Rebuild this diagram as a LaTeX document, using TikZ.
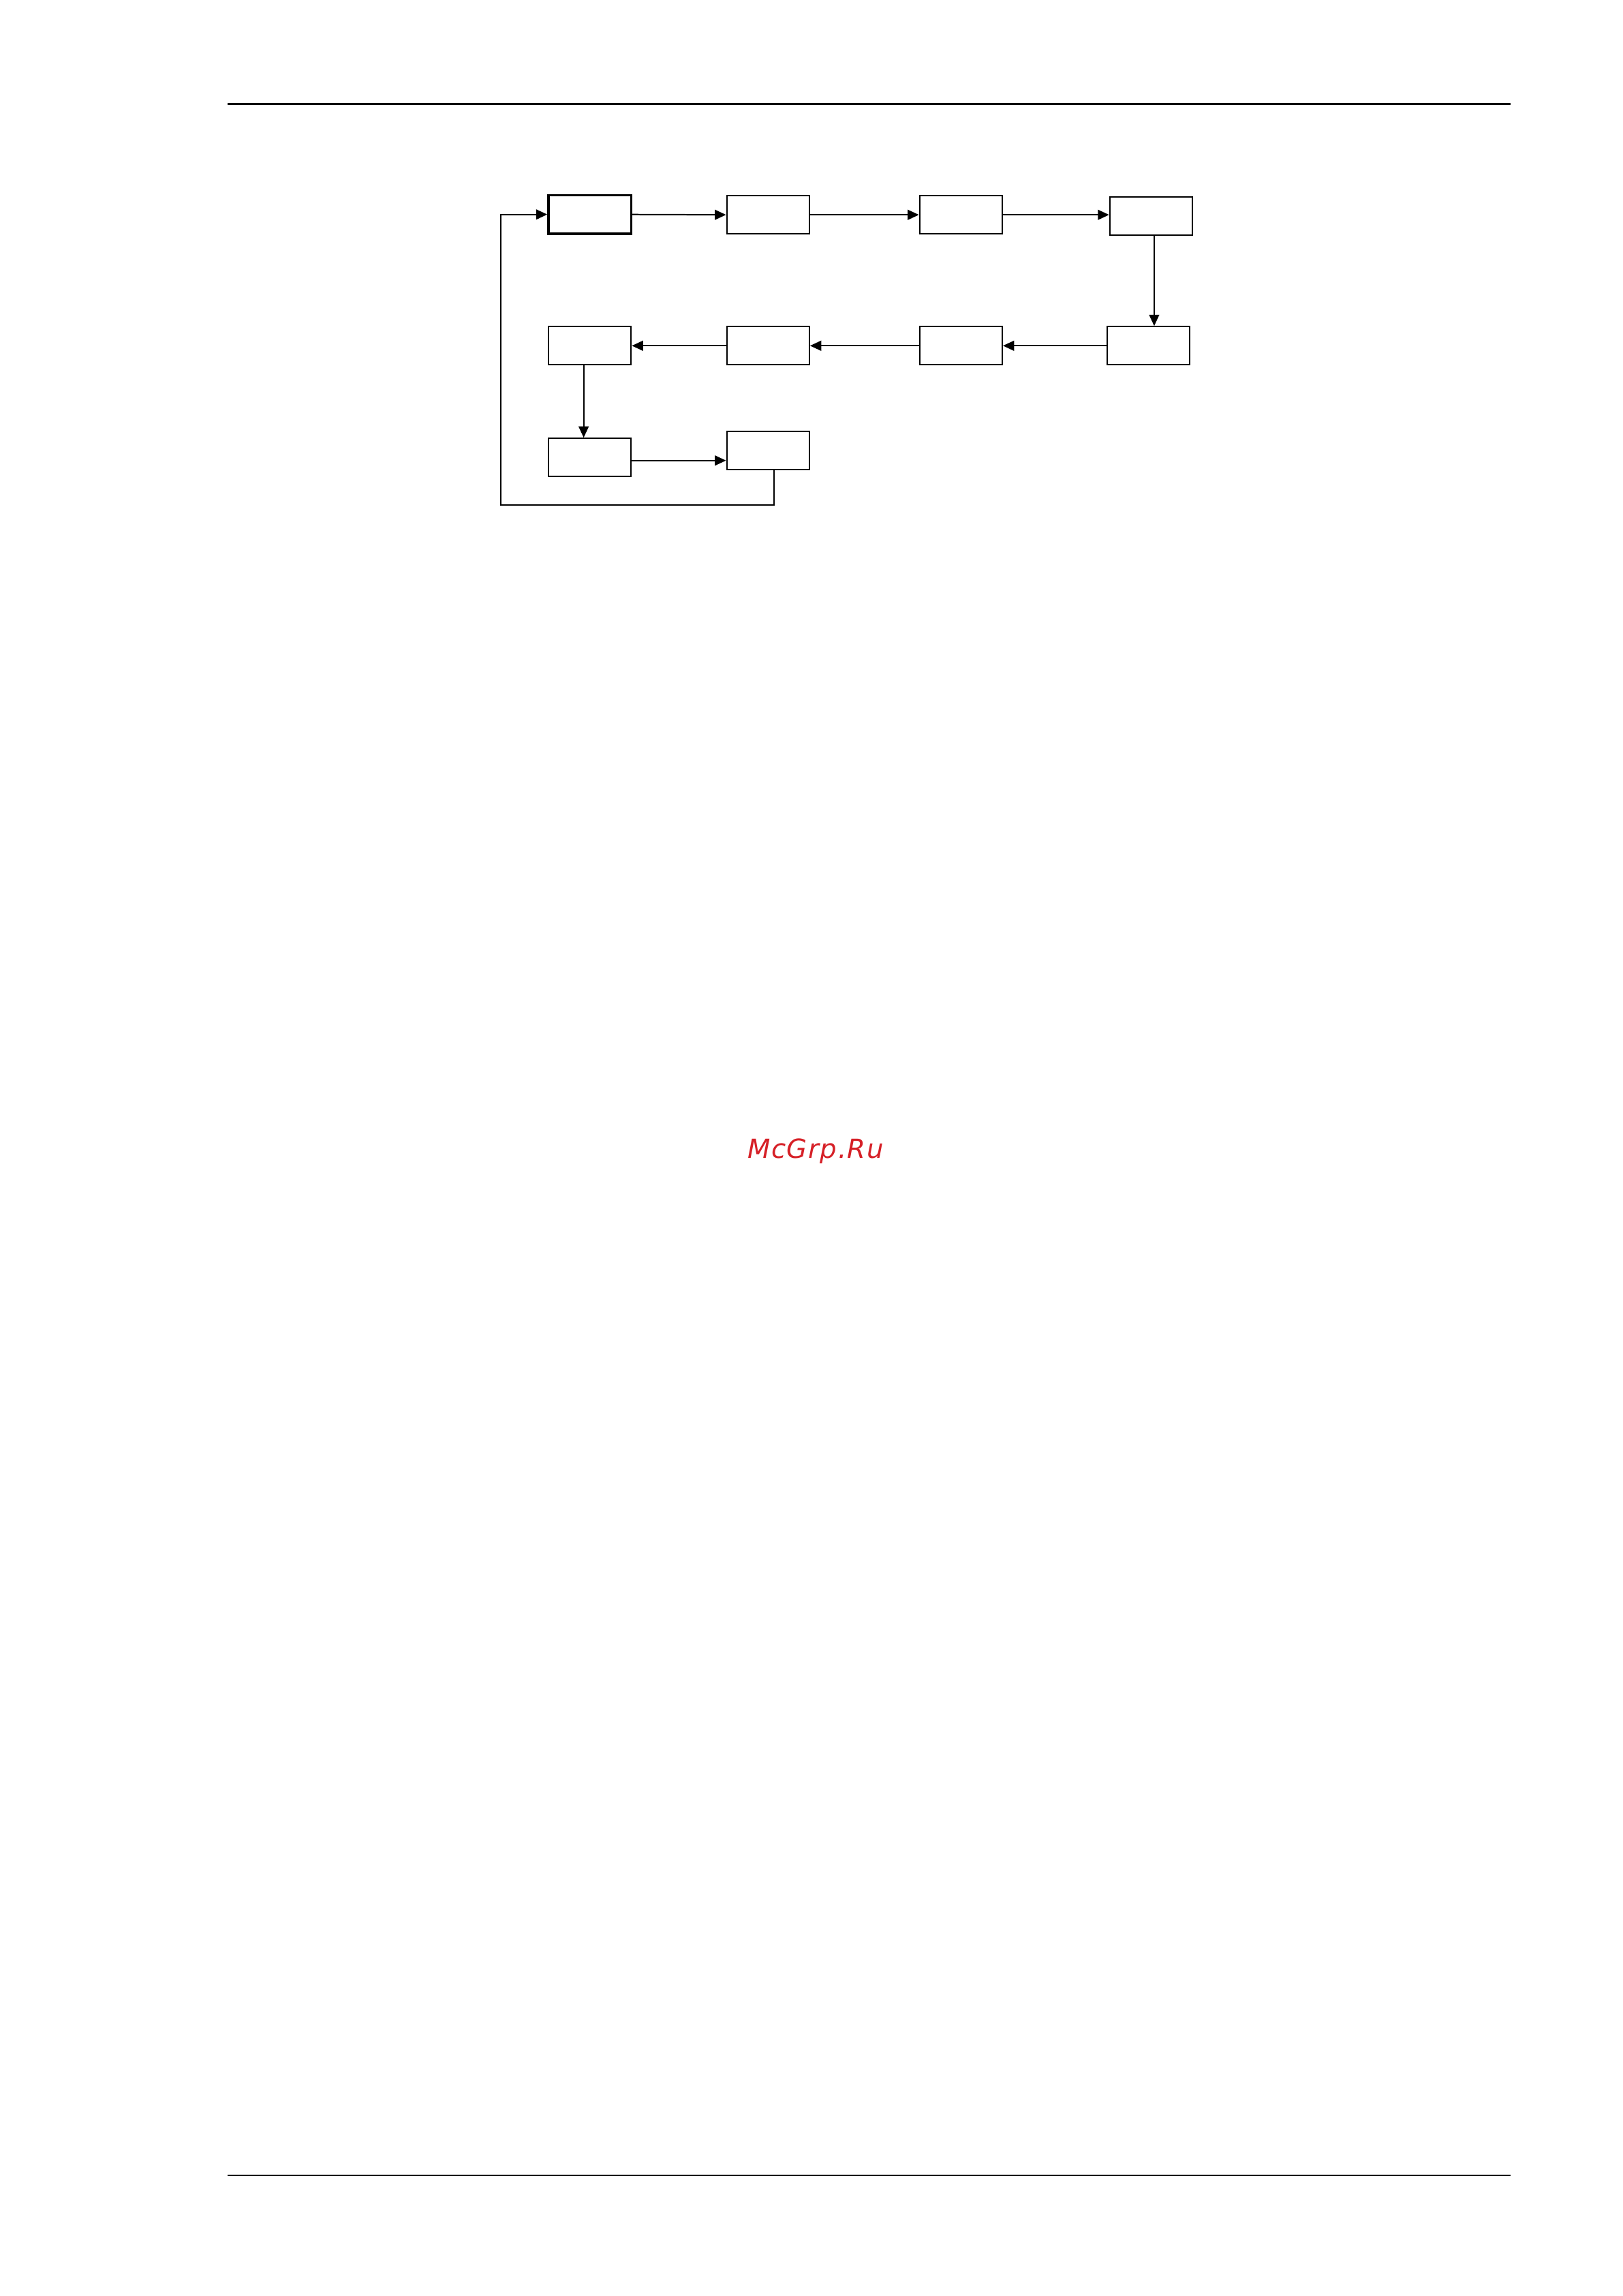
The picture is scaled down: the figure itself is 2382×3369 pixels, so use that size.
\documentclass[tikz,border=0pt]{standalone}
\usepackage{fontspec}
\newfontfamily\markfont[ItalicFont={DejaVu Sans Oblique}, LetterSpace=4]{DejaVu Sans}
\definecolor{markred}{RGB}{214, 32, 39}
\usetikzlibrary{arrows.meta}

\begin{document}
\begin{tikzpicture}[
  x=0.008816cm, y=-0.008816cm,
  stage/.style={draw, line width=0.5pt, minimum width=1.07cm,
                minimum height=0.495cm, inner sep=0pt},
  flow/.style={-{Triangle[length=1.45mm, width=1.3mm]}, line width=0.5pt},
]
\useasboundingbox (0,0) rectangle (2382,3369);

% Page rules
\draw[line width=0.75pt] (334,152.5) -- (2217,152.5);
\draw[line width=0.4pt] (334,3192) -- (2217,3192);

% Top row
\node[stage, line width=0.9pt] (start) at (865.7, 314.7) {};
\node[stage] (stageB) at (1127.2, 315.2) {};
\node[stage] (stageC) at (1410.3, 315.2) {};
\node[stage] (stageD) at (1689.4, 317.3) {};

% Middle row
\node[stage] (stageE) at (1685.7, 507.3) {};
\node[stage] (stageF) at (1410.3, 507.3) {};
\node[stage] (stageG) at (1127.2, 507.3) {};
\node[stage] (stageH) at (865.7, 507.3) {};

% Bottom row
\node[stage] (stageI) at (865.7, 671.2) {};
\node[stage] (stageJ) at (1127.2, 661.2) {};

% Arrows
\draw[flow] (start.east) -- (stageB.west);
\draw[flow] (stageB.east) -- (stageC.west);
\draw[flow] (stageC.east) -- (stageC.east -| stageD.west);
\draw[flow] ([xshift=0.04cm]stageD.south) -- ([xshift=0.04cm]stageD.south |- stageE.north);
\draw[flow] (stageE.west) -- (stageF.east);
\draw[flow] (stageF.west) -- (stageG.east);
\draw[flow] (stageG.west) -- (stageH.east);
\draw[flow] ([xshift=-0.08cm]stageH.south) -- ([xshift=-0.08cm]stageH.south |- stageI.north);
\draw[flow] ([yshift=-0.04cm]stageI.east) -- ([yshift=-0.04cm]stageI.east -| stageJ.west);

% Feedback loop
\coordinate (loopcorner) at (735.2, 741.4);
\draw[flow] ([xshift=0.08cm]stageJ.south) |- (loopcorner) |- (start.west);

% Watermark
\node[font=\markfont\itshape\fontsize{9.7}{12}\selectfont, text=markred,
      anchor=base] (mark) at (1197, 1699) {McGrp.Ru};
\end{tikzpicture}
\end{document}
